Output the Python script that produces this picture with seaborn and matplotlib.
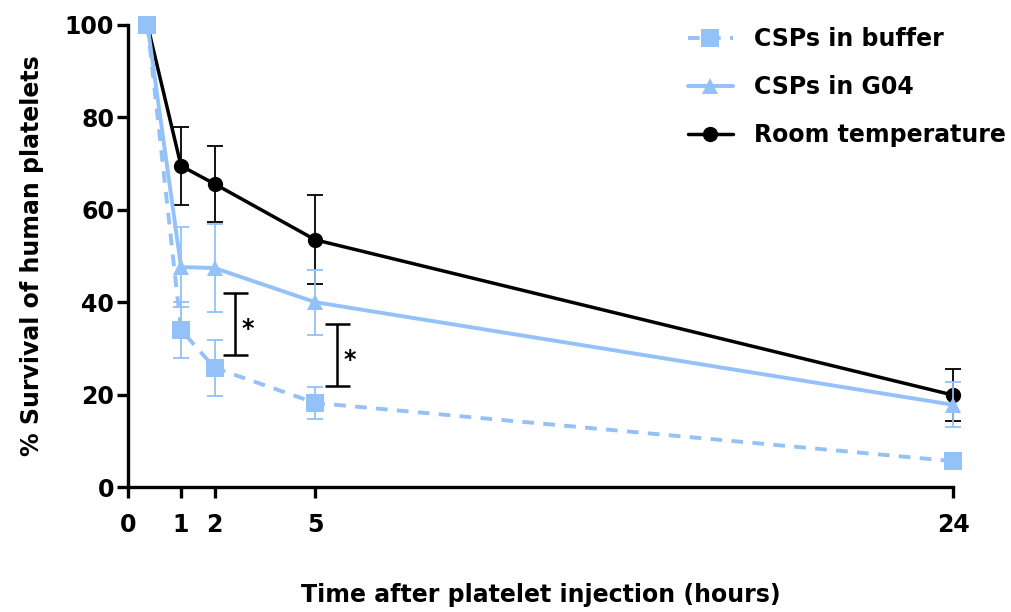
import matplotlib
matplotlib.use("Agg")
import matplotlib.pyplot as plt
import seaborn as sns
import numpy as np

# ---- data ----
time_h = [0, 1, 2, 5, 24]
buffer_mean = [100, 34.0, 25.8, 18.2, 5.6]
buffer_sd = [0, 6.0, 6.0, 3.4, 0.8]
g04_mean = [100, 47.6, 47.4, 40.0, 17.8]
g04_sd = [0, 8.7, 9.5, 7.0, 4.9]
rt_mean = [100, 69.5, 65.6, 53.5, 19.9]
rt_sd = [0, 8.5, 8.2, 9.6, 5.6]

series_labels = ["CSPs in buffer", "CSPs in G04", "Room temperature"]
x_tick_pos = [-0.58, 1, 2, 5, 24]
x_tick_labels = ["0", "1", "2", "5", "24"]
y_ticks = [0, 20, 40, 60, 80, 100]

# significance brackets: (x, y_low, y_high)
sig_x = [2.6, 5.65]
sig_low = [28.6, 21.9]
sig_high = [42.0, 35.3]

blue = "#93C1F8"
black = "#000000"

sns.set_theme(style="ticks", rc={"axes.edgecolor": "black", "xtick.color": "black",
                                 "ytick.color": "black", "text.color": "black",
                                 "axes.labelcolor": "black"})
plt.rcParams["font.family"] = ["DejaVu Sans"]
plt.rcParams["font.weight"] = "bold"

fig = plt.figure(figsize=(10.12, 6.12), dpi=100)
ax = fig.add_axes([0.1265, 0.2042, 0.8152, 0.755])

specs = [
    (buffer_mean, buffer_sd, blue, "s", (0, (3.0, 2.4)), 12.5, 2.8, 5),
    (g04_mean, g04_sd, blue, "^", "-", 12, 2.8, 4),
    (rt_mean, rt_sd, black, "o", "-", 11, 2.5, 3),
]
for (m, sd, c, mk, ls, ms, lw, z), lab in zip(specs, series_labels):
    ax.errorbar(time_h, m, yerr=sd, fmt="none", ecolor=c, elinewidth=1.3,
                capsize=6, capthick=1.3, clip_on=False, zorder=z - 0.5)
    sns.lineplot(x=time_h, y=m, ax=ax, color=c, marker=mk, markersize=ms,
                 markeredgewidth=0, linewidth=lw, linestyle=ls, label=lab,
                 clip_on=False, zorder=z)

for x, lo, hi in zip(sig_x, sig_low, sig_high):
    ax.errorbar([x], [(lo + hi) / 2], yerr=[[(hi - lo) / 2], [(hi - lo) / 2]],
                fmt="none", ecolor="black", elinewidth=1.8, capsize=9,
                capthick=1.8)
    ax.text(x + 0.2, (lo + hi) / 2 - 1.0, "*", fontsize=17, fontweight="bold",
            ha="left", va="center")

ax.set_xlim(-0.58, 24)
ax.set_ylim(0, 100)
ax.set_xticks(x_tick_pos)
ax.set_xticklabels(x_tick_labels)
ax.set_yticks(y_ticks)
for s in ["top", "right"]:
    ax.spines[s].set_visible(False)
for s in ["left", "bottom"]:
    ax.spines[s].set_linewidth(2.4)
ax.tick_params(axis="both", width=2.4, length=8, labelsize=17)
ax.tick_params(axis="x", pad=11)
ax.tick_params(axis="y", pad=2)
for lbl in ax.get_xticklabels() + ax.get_yticklabels():
    lbl.set_fontweight("bold")

ax.set_ylabel("% Survival of human platelets", fontsize=17, fontweight="bold",
              labelpad=15)
ax.set_xlabel("Time after platelet injection (hours)", fontsize=17,
              fontweight="bold", labelpad=33)

leg = ax.legend(loc="upper right", bbox_to_anchor=(1.090, 1.042), frameon=False,
                fontsize=17, handlelength=1.9, handletextpad=0.9,
                labelspacing=1.02)
for t in leg.get_texts():
    t.set_fontweight("bold")

fig.savefig("out.png", dpi=100)
